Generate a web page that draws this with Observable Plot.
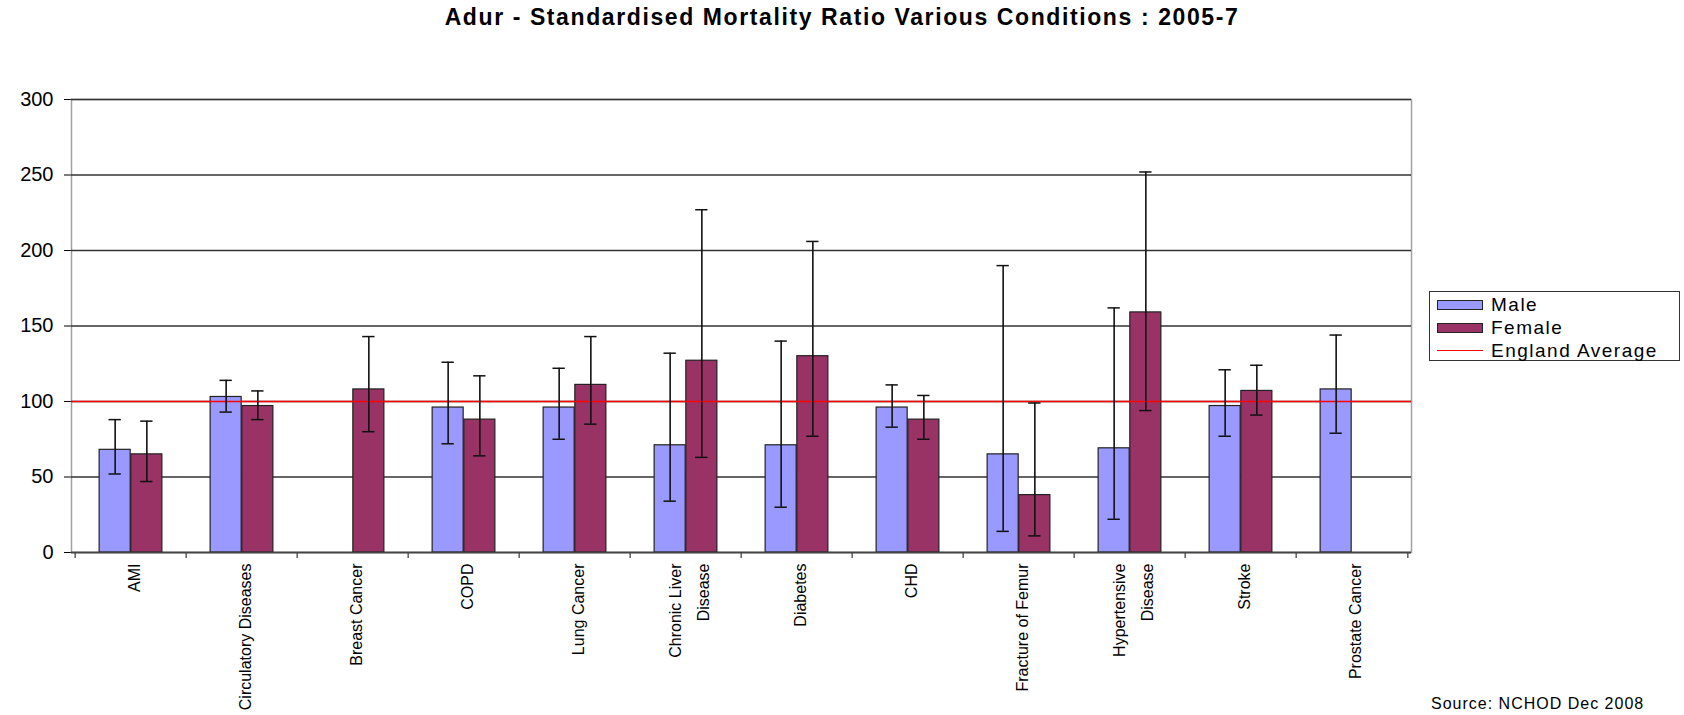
<!DOCTYPE html>
<html>
<head>
<meta charset="utf-8">
<script src="https://cdn.jsdelivr.net/npm/d3@7"></script>
<script src="https://cdn.jsdelivr.net/npm/@observablehq/plot@0.6"></script>
<style>
  body { margin: 0; background: #fff; font-family: "Liberation Sans", Arial, sans-serif; }
  #wrap { position: relative; width: 1684px; height: 715px; overflow: hidden; }
  #title { height: 44px; box-sizing: border-box; padding-top: 4px; text-align: center;
    font-size: 23px; line-height: 26px; font-weight: bold; letter-spacing: 1.6px; color: #000; }
  #legend { position: absolute; left: 1429px; top: 291px; width: 251px; height: 70px; box-sizing: border-box;
    border: 1.5px solid #333; background: #fff; }
  .row { position: absolute; left: 7px; height: 23px; display: flex; align-items: center;
    font-size: 19px; letter-spacing: 1.5px; color: #000; }
  .sw { width: 46px; height: 10px; box-sizing: border-box; border: 1px solid #222; margin-right: 8px; }
  .ln { width: 46px; height: 1.5px; background: #ff0000; margin-right: 8px; }
  #source { position: absolute; left: 1431px; top: 696px; font-size: 16px; line-height: 16px; letter-spacing: 1px; color: #000; }
</style>
</head>
<body>
<div id="wrap">
  <div id="title">Adur - Standardised Mortality Ratio Various Conditions : 2005-7</div>
  <div id="chart"></div>
  <div id="legend">
    <div class="row" style="top:1px"><div class="sw" style="background:#9999ff"></div>Male</div>
    <div class="row" style="top:24px"><div class="sw" style="background:#993366"></div>Female</div>
    <div class="row" style="top:47px"><div class="ln"></div>England Average</div>
  </div>
  <div id="source">Source: NCHOD Dec 2008</div>
</div>
<script>
const conditions = ["AMI", "Circulatory Diseases", "Breast Cancer", "COPD", "Lung Cancer", "Chronic Liver Disease",
  "Diabetes", "CHD", "Fracture of Femur", "Hypertensive Disease", "Stroke", "Prostate Cancer"];
const labels = ["AMI", "Circulatory Diseases", "Breast Cancer", "COPD", "Lung Cancer", "Chronic Liver\nDisease",
  "Diabetes", "CHD", "Fracture of Femur", "Hypertensive\nDisease", "Stroke", "Prostate Cancer"];

const maleSMR  = [68, 103, null, 96, 96, 71, 71, 96, 65, 69, 97, 108];
const maleLow  = [52, 93, null, 72, 75, 34, 30, 83, 14, 22, 77, 79];
const maleHigh = [88, 114, null, 126, 122, 132, 140, 111, 190, 162, 121, 144];

const femaleSMR  = [65, 97, 108, 88, 111, 127, 130, 88, 38, 159, 107, null];
const femaleLow  = [47, 88, 80, 64, 85, 63, 77, 75, 11, 94, 91, null];
const femaleHigh = [87, 107, 143, 117, 143, 227, 206, 104, 99, 252, 124, null];

const englandAverage = 100;
const yTicks = [0, 50, 100, 150, 200, 250, 300];

const male = conditions.map((c, i) => ({condition: c, smr: maleSMR[i], lo: maleLow[i], hi: maleHigh[i]}))
  .filter(d => d.smr != null);
const female = conditions.map((c, i) => ({condition: c, smr: femaleSMR[i], lo: femaleLow[i], hi: femaleHigh[i]}))
  .filter(d => d.smr != null);
const xLabels = conditions.map((c, i) => ({condition: c, label: labels[i]}));

const width = 1684, height = 671;
const mL = 71, mR = 273, mT = 55, mB = 163;
const bw = (width - mL - mR) / conditions.length;  // one category
const barW = 31.7;
const cap = 13;

function errorBars(data, side) {
  const dx = side * barW / 2;
  const capInset = bw / 2 - cap / 2;
  return [
    Plot.ruleX(data, {x: "condition", y1: "lo", y2: "hi", dx, stroke: "#111", strokeWidth: 1.6}),
    Plot.tickY(data, {x: "condition", y: "hi", dx, insetLeft: capInset, insetRight: capInset, stroke: "#111", strokeWidth: 1.5}),
    Plot.tickY(data, {x: "condition", y: "lo", dx, insetLeft: capInset, insetRight: capInset, stroke: "#111", strokeWidth: 1.5})
  ];
}

let chart = Plot.plot({
  width, height,
  marginLeft: mL, marginRight: mR, marginTop: mT, marginBottom: mB,
  style: {fontFamily: "'Liberation Sans', Arial, sans-serif", fontSize: "20px", color: "#000", background: "#fff"},
  x: {domain: conditions, padding: 0, axis: null},
  y: {domain: [0, 300], ticks: yTicks, tickSize: 7, tickPadding: 11, line: true, label: null},
  marks: [
    Plot.frame({stroke: "#a0a0a0", strokeWidth: 1.5}),
    Plot.ruleY(yTicks, {stroke: "#333", strokeWidth: 1.3}),
    Plot.barY(male, {x: "condition", y: "smr", fill: "#9999ff", stroke: "#222", strokeWidth: 1.2,
      insetLeft: bw / 2 - barW, insetRight: bw / 2}),
    Plot.barY(female, {x: "condition", y: "smr", fill: "#993366", stroke: "#222", strokeWidth: 1.2,
      insetLeft: bw / 2, insetRight: bw / 2 - barW}),
    Plot.ruleY([englandAverage], {stroke: "#ff0000", strokeWidth: 1.4}),
    errorBars(male, -1),
    errorBars(female, 1),
    Plot.ruleY([0], {stroke: "#444", strokeWidth: 1.3}),
    // category separators under the axis
    Plot.ruleX(conditions, {x: d => d, dx: -bw / 2, insetTop: height - mT - mB, insetBottom: -6, stroke: "#444", strokeWidth: 1.3}),
    Plot.ruleX(conditions.slice(-1), {x: d => d, dx: bw / 2, insetTop: height - mT - mB, insetBottom: -6, stroke: "#444", strokeWidth: 1.3}),
    Plot.text(xLabels, {x: "condition", text: "label", frameAnchor: "bottom", dy: 11, rotate: -90,
      textAnchor: "end", lineAnchor: "middle", lineHeight: 1.75, fontSize: 16, fill: "#000"})
  ]
});

d3.select("#chart").append(() => chart);
</script>
</body>
</html>
